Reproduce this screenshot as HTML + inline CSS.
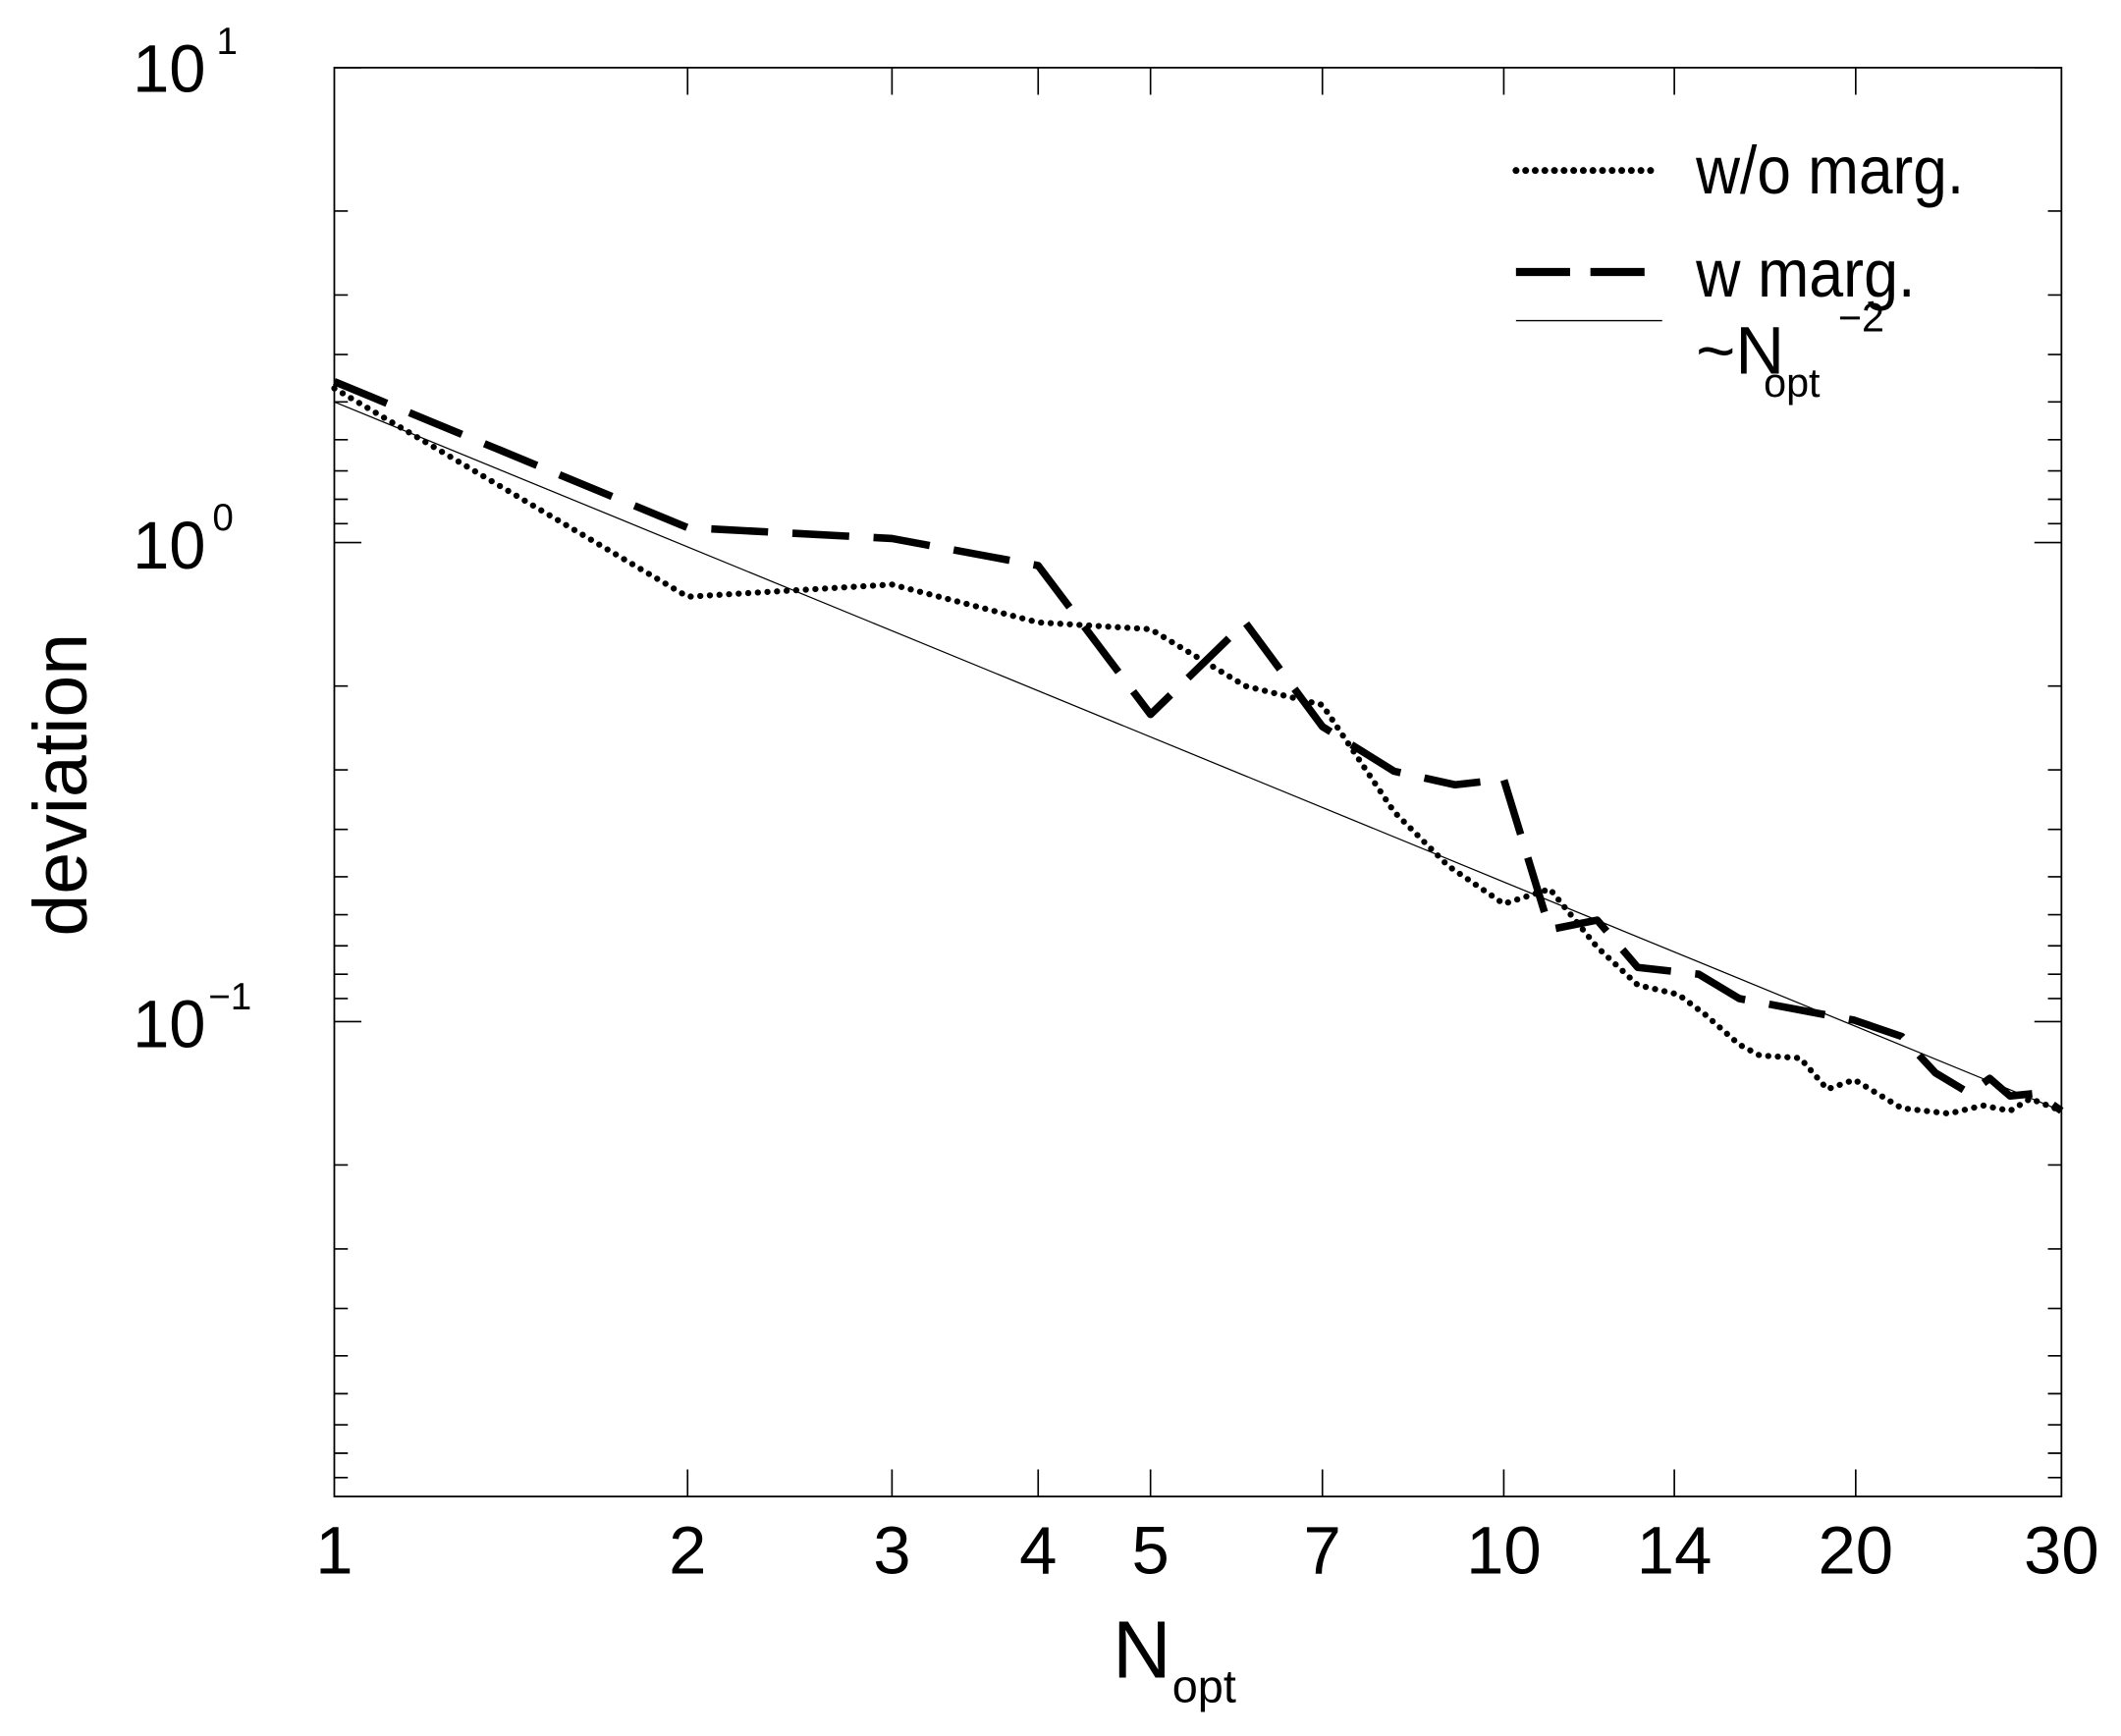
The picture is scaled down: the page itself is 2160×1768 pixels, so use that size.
<!DOCTYPE html>
<html><head><meta charset="utf-8"><style>html,body{margin:0;padding:0;background:#fff}svg{display:block}</style></head>
<body>
<svg width="2160" height="1768" viewBox="0 0 1567 1283" preserveAspectRatio="none" xmlns="http://www.w3.org/2000/svg" font-family="Liberation Sans, sans-serif">
<rect width="1567" height="1283" fill="#fff"/>
<rect x="247" y="50" width="1276" height="1056" fill="none" stroke="#000" stroke-width="1.3"/>
<g stroke="#000" stroke-width="1.2">
<path d="M247 50h20M247 401h20M247 755h20M1523 50h-20M1523 401h-20M1523 755h-20"/>
<path d="M247 156h10M247 218h10M247 262h10M247 297h10M247 325h10M247 348h10M247 369h10M247 387h10
M247 507h10M247 569h10M247 613h10M247 648h10M247 676h10M247 699h10M247 720h10M247 738h10
M247 861h10M247 923h10M247 967h10M247 1002h10M247 1030h10M247 1053h10M247 1074h10M247 1092h10"/>
<path d="M1523 156h-10M1523 218h-10M1523 262h-10M1523 297h-10M1523 325h-10M1523 348h-10M1523 369h-10M1523 387h-10
M1523 507h-10M1523 569h-10M1523 613h-10M1523 648h-10M1523 676h-10M1523 699h-10M1523 720h-10M1523 738h-10
M1523 861h-10M1523 923h-10M1523 967h-10M1523 1002h-10M1523 1030h-10M1523 1053h-10M1523 1074h-10M1523 1092h-10"/>
<path d="M508 1106v-20M659 1106v-20M767 1106v-20M850 1106v-20M977 1106v-20M1111 1106v-20M1237 1106v-20M1371 1106v-20
M508 50v20M659 50v20M767 50v20M850 50v20M977 50v20M1111 50v20M1237 50v20M1371 50v20"/>
</g>
<g font-size="50" text-anchor="middle">
<text x="247" y="1163">1</text><text x="508" y="1163">2</text><text x="659" y="1163">3</text><text x="767" y="1163">4</text><text x="850" y="1163">5</text><text x="977" y="1163">7</text><text x="1111" y="1163">10</text><text x="1237" y="1163">14</text><text x="1371" y="1163">20</text><text x="1523" y="1163">30</text>
</g>
<g font-size="50">
<text x="98" y="68" textLength="54" lengthAdjust="spacingAndGlyphs">10</text><text x="160" y="40" font-size="28">1</text>
<text x="98" y="420" textLength="54" lengthAdjust="spacingAndGlyphs">10</text><text x="157" y="392" font-size="28">0</text>
<text x="98" y="774" textLength="54" lengthAdjust="spacingAndGlyphs">10</text><text x="154" y="746" font-size="28">−1</text>
</g>
<text x="822" y="1240" font-size="60">N</text><text x="866" y="1258" font-size="34">opt</text>
<text transform="translate(64,580) rotate(-90)" font-size="56" text-anchor="middle">deviation</text>
<line x1="1120" y1="126" x2="1226" y2="126" stroke="#000" stroke-width="5" stroke-dasharray="0.1,7" stroke-linecap="round"/>
<line x1="1120" y1="201" x2="1228" y2="201" stroke="#000" stroke-width="6" stroke-dasharray="40,15"/>
<line x1="1120" y1="237" x2="1228" y2="237" stroke="#000" stroke-width="1"/>
<g font-size="50">
<text x="1253" y="143" textLength="198" lengthAdjust="spacingAndGlyphs">w/o marg.</text>
<text x="1253" y="219" textLength="162" lengthAdjust="spacingAndGlyphs">w marg.</text>
<text x="1253" y="276">~N</text><text x="1303" y="293" font-size="30">opt</text><text x="1358" y="245" font-size="30">−2</text>
</g>
<line x1="247" y1="297" x2="1523" y2="821" stroke="#000" stroke-width="0.9"/>
<polyline fill="none" stroke="#000" stroke-width="4.5" stroke-dasharray="0.1,7" stroke-linecap="round" stroke-linejoin="round"
points="247,287 508,441 659,432 767,460 850,465 920,507 977,521 1030,600 1070,640 1111,668 1145,657 1180,700 1210,728 1240,735 1260,750 1285,772 1300,780 1330,782 1350,805 1370,798 1405,819 1440,823 1465,817 1485,821 1500,812 1523,821"/>
<polyline fill="none" stroke="#000" stroke-width="5.5" stroke-dasharray="42,18" stroke-linejoin="round"
points="247,282 508,390 659,398 767,418 850,528 920,460 977,537 1030,570 1075,580 1111,576 1145,687 1180,680 1210,715 1255,720 1285,738 1370,754 1405,766 1430,793 1455,808 1470,797 1485,810 1505,808 1523,821"/>
</svg>
</body></html>
